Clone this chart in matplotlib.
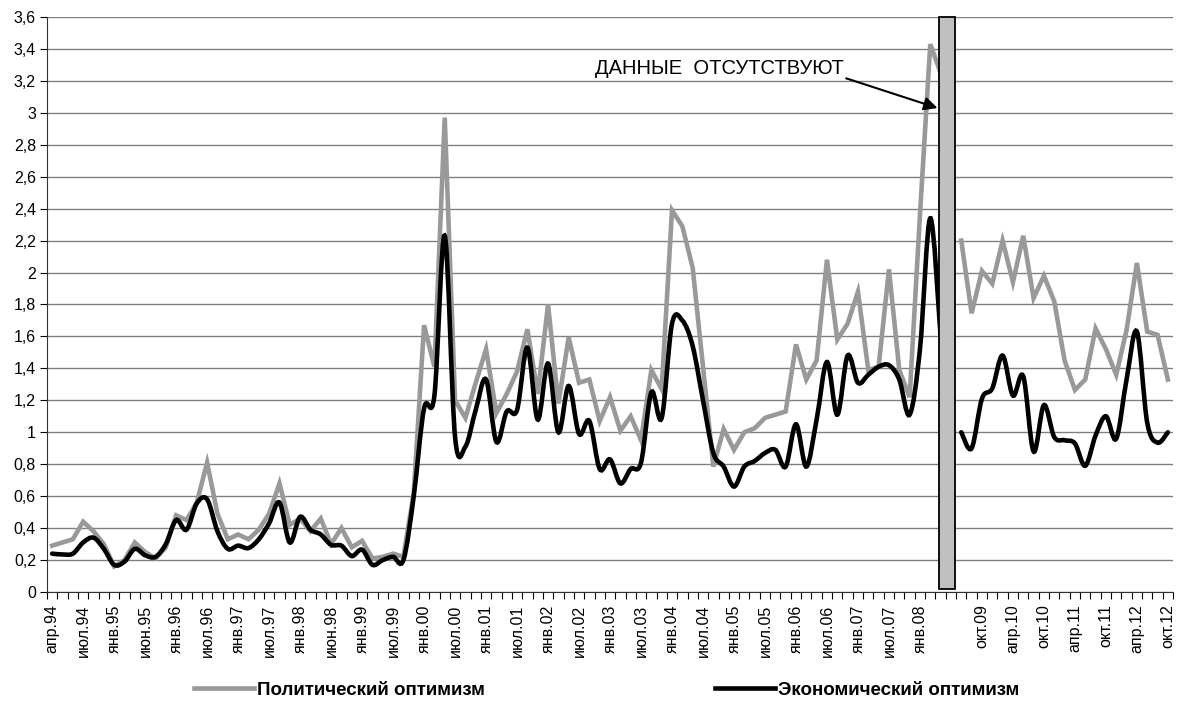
import numpy as np
import matplotlib
matplotlib.use('Agg')
import matplotlib.pyplot as plt
from matplotlib.path import Path
from matplotlib.patches import PathPatch, Rectangle
from matplotlib.lines import Line2D

plt.rcParams['font.family'] = ['Liberation Sans', 'DejaVu Sans']

# Метки оси X (каждая третья точка, пропуск на месте разрыва)
tick_labels = ["апр.94", "июл.94", "янв.95", "июн.95", "янв.96", "июл.96", "янв.97",
               "июл.97", "янв.98", "июн.98", "янв.99", "июл.99", "янв.00", "июл.00",
               "янв.01", "июл.01", "янв.02", "июл.02", "янв.03", "июл.03", "янв.04",
               "июл.04", "янв.05", "июл.05", "янв.06", "июл.06", "янв.07", "июл.07",
               "янв.08", "", "окт.09", "апр.10", "окт.10", "апр.11", "окт.11",
               "апр.12", "окт.12"]

nan = np.nan
# Политический оптимизм
political = [0.29, 0.31, 0.33, 0.44, 0.38, 0.30, 0.16, 0.20, 0.31, 0.25,
             0.21, 0.28, 0.48, 0.45, 0.56, 0.81, 0.49, 0.33, 0.36, 0.33,
             0.39, 0.49, 0.68, 0.42, 0.46, 0.38, 0.46, 0.30, 0.40, 0.28,
             0.32, 0.21, 0.22, 0.24, 0.22, 0.62, 1.67, 1.41, 2.97, 1.20,
             1.09, 1.31, 1.52, 1.12, 1.24, 1.38, 1.645, 1.24, 1.80, 1.18,
             1.595, 1.31, 1.33, 1.07, 1.22, 1.01, 1.10, 0.95, 1.39, 1.27,
             2.39, 2.29, 2.03, 1.41, 0.785, 1.02, 0.89, 1.00, 1.025, 1.09,
             1.11, 1.13, 1.55, 1.33, 1.45, 2.08, 1.58, 1.68, 1.88, 1.39,
             1.41, 2.02, 1.39, 1.22, 2.36, 3.43, 3.25, nan, 2.20, 1.745,
             2.01, 1.93, 2.20, 1.94, 2.23, 1.84, 1.98, 1.82, 1.45, 1.265,
             1.33, 1.65, 1.52, 1.36, 1.64, 2.06, 1.63, 1.61, 1.33]
# Экономический оптимизм
economic = [0.24, 0.235, 0.24, 0.31, 0.34, 0.27, 0.17, 0.19, 0.27, 0.23,
            0.22, 0.30, 0.45, 0.39, 0.555, 0.58, 0.38, 0.27, 0.29, 0.275,
            0.33, 0.43, 0.56, 0.31, 0.47, 0.39, 0.36, 0.295, 0.29, 0.225,
            0.265, 0.17, 0.20, 0.22, 0.20, 0.60, 1.15, 1.23, 2.23, 0.97,
            0.91, 1.14, 1.33, 0.94, 1.13, 1.14, 1.53, 1.08, 1.43, 1.00,
            1.29, 0.99, 1.07, 0.77, 0.83, 0.68, 0.77, 0.81, 1.25, 1.09,
            1.68, 1.70, 1.54, 1.20, 0.87, 0.785, 0.66, 0.785, 0.82, 0.87,
            0.89, 0.785, 1.05, 0.785, 1.08, 1.44, 1.11, 1.48, 1.31, 1.36,
            1.41, 1.42, 1.33, 1.11, 1.52, 2.34, 1.60, nan, 1.00, 0.90,
            1.21, 1.275, 1.48, 1.23, 1.35, 0.88, 1.17, 0.97, 0.95, 0.93,
            0.79, 0.98, 1.10, 0.96, 1.33, 1.63, 1.06, 0.935, 1.00]

GRAY = '#999999'


def smooth_path(x, y):
    # сглаженная линия как в Excel (кривые Безье через все точки)
    verts, codes = [], []
    x = np.asarray(x, float)
    y = np.asarray(y, float)
    ok = ~np.isnan(y)
    start = None
    for i in range(len(y) + 1):
        if i < len(y) and ok[i]:
            if start is None:
                start = i
            continue
        if start is not None:
            xs, ys = x[start:i], y[start:i]
            n = len(xs)
            verts.append((xs[0], ys[0]))
            codes.append(Path.MOVETO)
            for k in range(n - 1):
                k0 = max(k - 1, 0)
                k3 = min(k + 2, n - 1)
                c1 = (xs[k] + (xs[k + 1] - xs[k0]) / 6, ys[k] + (ys[k + 1] - ys[k0]) / 6)
                c2 = (xs[k + 1] - (xs[k3] - xs[k]) / 6, ys[k + 1] - (ys[k3] - ys[k]) / 6)
                verts += [c1, c2, (xs[k + 1], ys[k + 1])]
                codes += [Path.CURVE4] * 3
            start = None
    return Path(verts, codes)


fig = plt.figure(figsize=(11.78, 7.2), dpi=100)
ax = fig.add_axes([0.0399, 0.1778, 0.9559, 0.7986])

x = np.arange(len(political))
ax.plot(x, political, color=GRAY, lw=3.3, solid_joinstyle='miter', zorder=3)
ax.add_patch(PathPatch(smooth_path(x, economic), fc='none', ec='black', lw=3.3,
                       capstyle='round', zorder=4))

# прямоугольник разрыва данных
ax.add_patch(Rectangle((85.8, 0.02), 1.55, 3.58, fc='#c0c0c0', ec='black', lw=1.3,
                       zorder=5, clip_on=False))
ax.annotate("ДАННЫЕ  ОТСУТСТВУЮТ", xy=(85.7, 3.03), xytext=(52.5, 3.28),
            fontsize=14.5, va='center', ha='left', zorder=6,
            arrowprops=dict(arrowstyle='-|>', color='black', lw=1.5,
                            mutation_scale=20, shrinkA=0, shrinkB=0,
                            relpos=(0.92, 0.35)))

ax.set_xlim(-0.5, len(political) - 0.5)
ax.set_ylim(0, 3.6)
yt = np.round(np.arange(0, 3.61, 0.2), 1)
ax.set_yticks(yt)
ax.set_yticklabels([('%g' % v).replace('.', ',') for v in yt], fontsize=11.5)
ax.yaxis.grid(True, color='#808080', lw=1.0)
ax.set_axisbelow(True)

ax.set_xticks(np.arange(0, len(political), 3))
ax.set_xticklabels(tick_labels, rotation=90, fontsize=11.5)
ax.set_xticks(np.arange(-0.5, len(political), 1), minor=True)
ax.tick_params(axis='x', which='major', length=0, pad=9)
ax.tick_params(axis='x', which='minor', length=5, width=0.8, direction='out')
ax.tick_params(axis='y', length=5, width=0.8, direction='out', pad=3)

for s in ['top', 'right']:
    ax.spines[s].set_visible(False)
ax.spines['left'].set_color('#333333')
ax.spines['bottom'].set_color('#333333')

handles = [Line2D([], [], color=GRAY, lw=3.3), Line2D([], [], color='black', lw=3.3)]
fig.legend(handles, ["Политический оптимизм", "Экономический оптимизм"],
           loc='center', bbox_to_anchor=(0.515, 0.041), ncol=2, frameon=False,
           handlelength=3.2, handletextpad=0.15, columnspacing=12.3,
           prop={'weight': 'bold', 'size': 13.5})

fig.savefig('out.png', dpi=100)
